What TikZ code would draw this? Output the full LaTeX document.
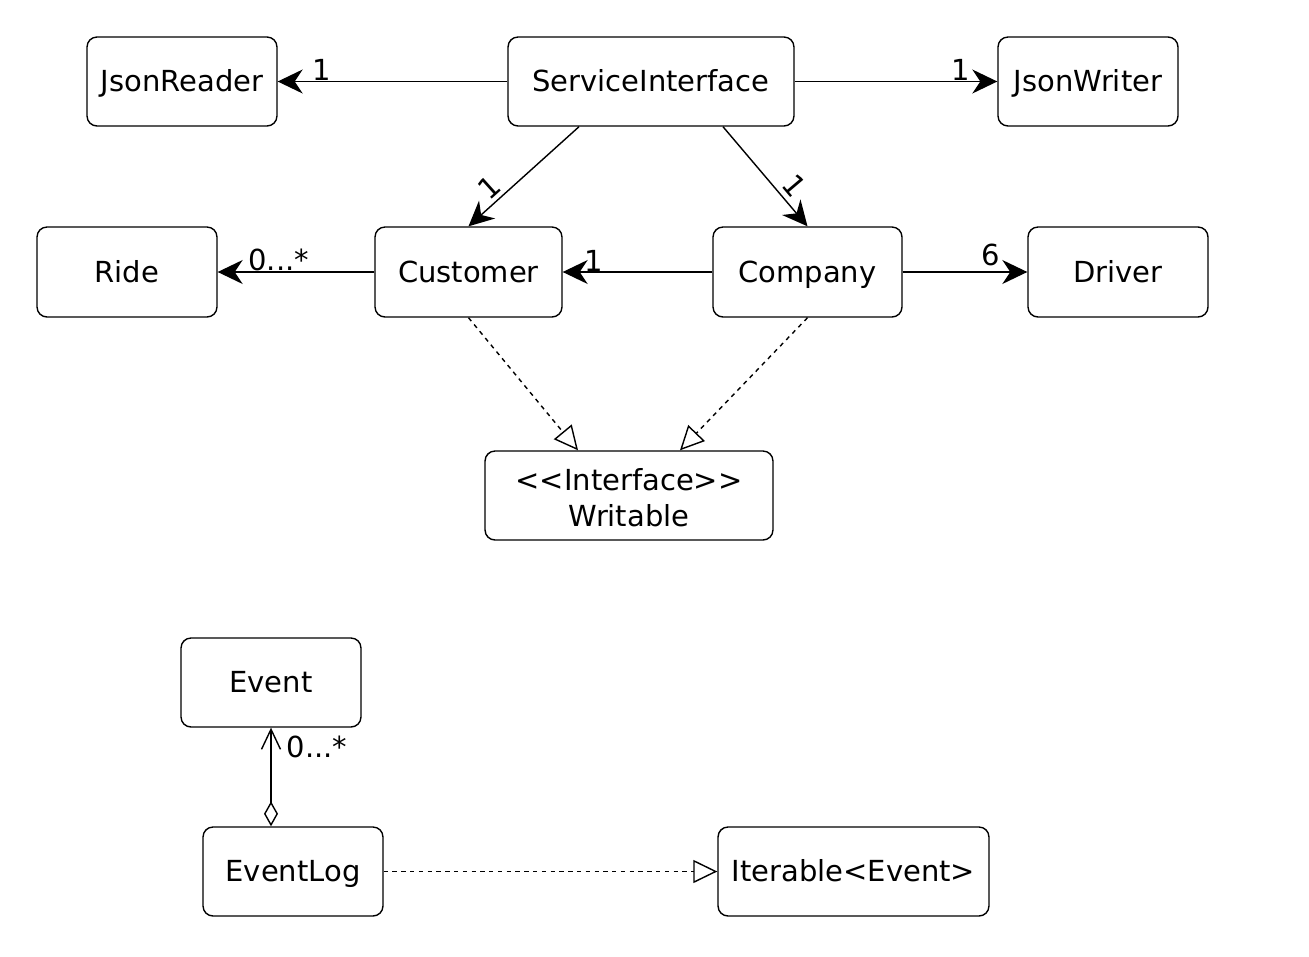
\documentclass[tikz,border=0pt]{standalone}
\usepackage{fontspec}
\setmainfont{DejaVu Sans}
\usetikzlibrary{arrows.meta}
\begin{document}
\begin{tikzpicture}[x=0.02cm,y=-0.02cm,
  cls/.style={draw, line width=0.8pt, rounded corners=0.2cm, align=center, inner sep=0pt,
    minimum height=1.78cm, font=\fontsize{16.5}{20.5}\selectfont},
  one/.style={cls, text height=13pt, text depth=1.5pt},
  con/.style={line width=0.8pt},
  assoc/.style={con, -{Stealth[length=0.5cm,width=0.48cm,inset=0.16cm]}},
  realize/.style={con, dash pattern=on 2.5pt off 2.5pt, -{Triangle[open,length=0.48cm,width=0.46cm]}},
  lbl/.style={font=\fontsize{16.5}{20}\selectfont, inner sep=1pt}]
\useasboundingbox[fill=white] (0,0) rectangle (1309,957);

\node[one, minimum width=3.8cm] (jr) at (182,81.5) {JsonReader};
\node[one, minimum width=5.72cm] (si) at (651,81.5) {ServiceInterface};
\node[one, minimum width=3.6cm] (jw) at (1088,81.5) {JsonWriter};
\node[one, minimum width=3.6cm, minimum height=1.8cm] (ride) at (127,272) {Ride};
\node[one, minimum width=3.74cm, minimum height=1.8cm] (cu) at (468.5,272) {Customer};
\node[one, minimum width=3.78cm, minimum height=1.8cm] (co) at (807.5,272) {Company};
\node[one, minimum width=3.6cm, minimum height=1.8cm] (dr) at (1118,272) {Driver};
\node[cls, minimum width=5.76cm] (wr) at (629,495.5) {\rule{0pt}{15pt}<{}<Interface>{}>\\Writable};
\node[one, minimum width=3.6cm] (ev) at (271,682.5) {Event};
\node[one, minimum width=3.6cm] (el) at (293,871.5) {EventLog};
\node[one, minimum width=5.42cm] (it) at (853.5,871.5) {Iterable<Event>};

\draw[assoc] (si.west) -- node[lbl, pos=0.81, anchor=south, inner sep=0pt] {1} (jr.east);
\draw[assoc] (si.east) -- node[lbl, pos=0.82, anchor=south, inner sep=0pt] {1} (jw.west);
\draw[assoc] ([xshift=-1.44cm]si.south) -- node[lbl, pos=0.72, sloped, above, inner sep=2pt] {1} (cu.north);
\draw[assoc] ([xshift=1.44cm]si.south) -- node[lbl, pos=0.7, sloped, above, inner sep=3pt] {1} (co.north);
\draw[assoc] (cu.west) -- node[lbl, pos=0.61, anchor=south, inner sep=0pt] {0...*} (ride.east);
\draw[assoc] (co.west) -- node[lbl, pos=0.79, anchor=south, inner sep=0pt] {1} (cu.east);
\draw[assoc] (co.east) -- node[lbl, pos=0.71, anchor=south, inner sep=3pt] {6} (dr.west);

\draw[realize] (cu.south) -- ([xshift=-1.02cm]wr.north);
\draw[realize] (co.south) -- ([xshift=1.02cm]wr.north);

\draw[con, {Diamond[open,length=0.5cm,width=0.28cm]}-{Straight Barb[length=0.4cm,width=0.38cm]}]
  (ev.south |- el.north) -- node[lbl, pos=0.8, anchor=west, xshift=0.3cm, inner sep=0pt] {0...*} (ev.south);
\draw[realize] (el.east) -- (it.west);
\end{tikzpicture}
\end{document}
